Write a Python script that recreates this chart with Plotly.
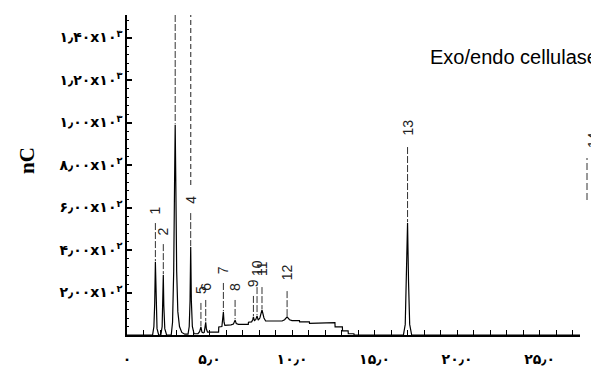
import plotly.graph_objects as go

# Ion chromatogram of the Exo/endo cellulase digest: retention time (min) vs response (nC)
rt_min = [
    0.00, 1.55, 1.63, 1.68, 1.72, 1.76, 1.82, 1.92,                      # peak 1
    2.05, 2.13, 2.17, 2.20, 2.23, 2.29, 2.40,                            # peak 2
    2.68, 2.76, 2.83, 2.88, 2.92, 2.96, 3.01, 3.08, 3.18, 3.32, 3.50,    # peak 3
    3.70, 3.77, 3.82, 3.86, 3.90, 3.96, 4.06,                            # peak 4
    4.30, 4.40, 4.48, 4.54, 4.62, 4.68, 4.73, 4.77, 4.81, 4.88,          # peaks 5, 6
    5.55, 5.56, 5.75, 5.80, 5.84, 5.88, 5.93,                            # peak 7
    6.30, 6.45, 6.55, 6.62, 6.75, 7.35, 7.36,                            # peak 8
    7.55, 7.62, 7.66, 7.72, 7.80, 7.88, 7.95, 8.05, 8.18, 8.30, 8.40,    # peaks 9-11
    9.40, 9.55, 9.70, 9.85, 10.00, 10.45, 10.46, 11.05, 11.06, 12.05,    # peak 12 + tail
    12.06, 12.60, 12.61, 13.05, 13.06, 13.40, 13.41, 13.75, 13.76,
    16.75, 16.86, 16.93, 17.00, 17.06, 17.13, 17.25, 27.50,              # peak 13
]
signal_nc = [
    0, 0, 40, 150, 343, 150, 30, 0,
    0, 40, 140, 282, 140, 30, 0,
    0, 60, 300, 700, 990, 700, 300, 110, 40, 12, 4,
    4, 40, 160, 414, 160, 40, 6,
    6, 16, 38, 14, 10, 12, 30, 60, 28, 14,
    14, 38, 40, 70, 108, 60, 45,
    48, 52, 70, 54, 50, 50, 60,
    62, 72, 85, 68, 72, 90, 70, 80, 118, 80, 66,
    66, 72, 85, 72, 68, 68, 62, 62, 55, 55,
    58, 58, 38, 38, 19, 19, 6, 6, 0,
    0, 50, 250, 527, 250, 50, 0, 0,
]

# Peak table: number, retention time, apex height, level of the printed label
peak_ids = ["1", "2", "3", "4", "5", "6", "7", "8", "9", "10", "11", "12", "13"]
peak_rt = [1.72, 2.20, 2.92, 3.86, 4.48, 4.77, 5.84, 6.55, 7.66, 7.88, 8.18, 9.70, 17.00]
peak_height = [343, 282, 990, 414, 38, 60, 108, 70, 85, 90, 118, 85, 527]
label_level = [588, 489, None, 635, 212, 226, 306, 226, 245, 315, 315, 296, 974]

# integration event marker drawn above peak 4
event_rt = 3.86
event_from = 706

Y_MAX = 1506
X_MAX = 27.45

# axis tick labels (Persian digits)
x_tick_vals = [0, 5, 10, 15, 20, 25]
x_tick_text = ["۰", "۵٫۰", "۱۰٫۰", "۱۵٫۰", "۲۰٫۰", "۲۵٫۰"]
y_tick_vals = [200, 400, 600, 800, 1000, 1200, 1400]
y_tick_text = ["۲٫۰۰x۱۰<sup>۲</sup>", "۴٫۰۰x۱۰<sup>۲</sup>", "۶٫۰۰x۱۰<sup>۲</sup>",
               "۸٫۰۰x۱۰<sup>۲</sup>", "۱٫۰۰x۱۰<sup>۳</sup>", "۱٫۲۰x۱۰<sup>۳</sup>",
               "۱٫۴۰x۱۰<sup>۳</sup>"]

W, H = 591, 372
ML, MR, MT, MB = 127, 11, 15, 37
PW, PH = W - ML - MR, H - MT - MB
nc_per_px = Y_MAX / PH

fig = go.Figure()

fig.add_trace(go.Scatter(
    x=rt_min, y=signal_nc, mode="lines",
    line=dict(color="black", width=1.2), hoverinfo="skip", showlegend=False,
))

# label leader lines
lx, ly = [], []
for pid, t, h, lv in zip(peak_ids, peak_rt, peak_height, label_level):
    if lv is None:
        top = Y_MAX
    else:
        top = lv - (7 + 6 * len(pid)) * nc_per_px
    lx += [t, t, None]
    ly += [top, h + 4, None]
fig.add_trace(go.Scatter(
    x=lx, y=ly, mode="lines",
    line=dict(color="#333", width=1, dash="7px,2px"),
    hoverinfo="skip", showlegend=False,
))

fig.add_trace(go.Scatter(
    x=[event_rt, event_rt], y=[event_from, Y_MAX], mode="lines",
    line=dict(color="#555", width=1.3, dash="5px,3px"),
    hoverinfo="skip", showlegend=False,
))

annotations = []
for pid, t, lv in zip(peak_ids, peak_rt, label_level):
    if lv is None:
        continue
    annotations.append(dict(
        x=t, y=lv, xref="x", yref="y", text=pid, showarrow=False,
        textangle=-90, font=dict(family="Liberation Sans, Arial", size=14, color="#222"),
        xanchor="center", yanchor="middle",
    ))

# label of a late peak sitting just past the right end of the time axis
annotations.append(dict(
    x=(593 - ML) / PW, y=(H - MB - 140) / PH, xref="paper", yref="paper",
    text="14", showarrow=False, textangle=-90,
    font=dict(family="Liberation Sans, Arial", size=14, color="#222"),
    xanchor="center", yanchor="middle",
))

annotations.append(dict(
    x=(428 - ML) / PW, y=(H - MB - 57) / PH,
    xref="paper", yref="paper", text="Exo/endo cellulase", showarrow=False,
    xanchor="left", yanchor="middle",
    font=dict(family="Liberation Sans, Arial", size=20, color="black"),
))
annotations.append(dict(
    x=(27 - ML) / PW, y=(H - MB - 161) / PH,
    xref="paper", yref="paper", text="<b>nC</b>", showarrow=False,
    textangle=-90, xanchor="center", yanchor="middle",
    font=dict(family="Liberation Serif, Times New Roman", size=21, color="black"),
))

tick_font = dict(family="DejaVu Sans", size=14, color="black")

fig.update_layout(
    width=W, height=H,
    margin=dict(l=ML, r=MR, t=MT, b=MB, pad=0, autoexpand=False),
    paper_bgcolor="white", plot_bgcolor="white",
    showlegend=False,
    annotations=annotations,
    shapes=[dict(
        type="line", xref="paper", yref="paper",
        x0=(587 - ML) / PW, x1=(587 - ML) / PW,
        y0=(H - MB - 200) / PH, y1=(H - MB - 158) / PH,
        line=dict(color="#333", width=1, dash="7px,3px"),
    )],
    xaxis=dict(
        range=[0, X_MAX], showgrid=False, zeroline=False, automargin=False,
        showline=True, linecolor="black", linewidth=2,
        tickvals=x_tick_vals, ticktext=["<b>%s</b>" % s for s in x_tick_text],
        ticks="inside", ticklen=5, tickcolor="black", tickwidth=1,
        minor=dict(dtick=1, ticks="inside", ticklen=5, tickcolor="black", tickwidth=1),
        tickfont=tick_font, ticklabelstandoff=10,
    ),
    yaxis=dict(
        range=[0, Y_MAX], showgrid=False, zeroline=False, automargin=False,
        showline=True, linecolor="black", linewidth=1.5,
        tickvals=y_tick_vals, ticktext=["<b>%s</b>" % s for s in y_tick_text],
        ticks="inside", ticklen=5, tickcolor="black", tickwidth=1.5,
        minor=dict(dtick=40, ticks="inside", ticklen=2, tickcolor="black", tickwidth=1),
        tickfont=tick_font,
    ),
)

fig.write_html("out.html")
